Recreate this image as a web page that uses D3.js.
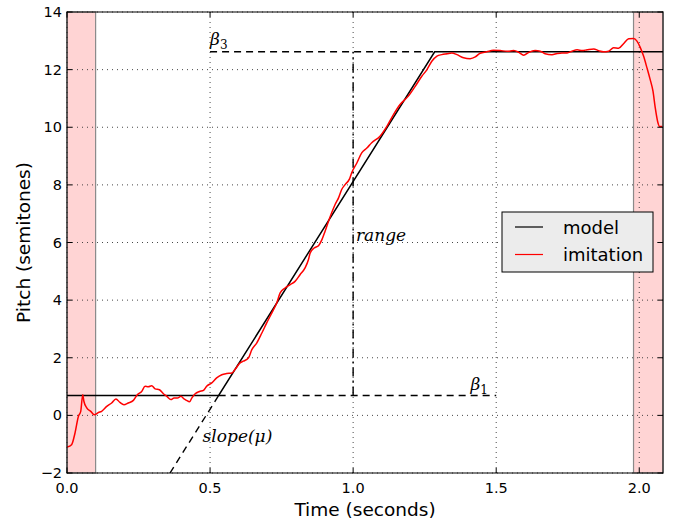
<!DOCTYPE html>
<html>
<head>
<meta charset="utf-8">
<script src="https://cdn.jsdelivr.net/npm/d3@7"></script>
<style>
  body { margin: 0; background: #fff; }
  text { font-family: "DejaVu Sans", sans-serif; }
  .math { font-family: "DejaVu Serif", serif; font-style: italic; }
</style>
</head>
<body>
<svg id="chart" width="677" height="528"></svg>
<script>
// tick values
const xTicks = [0, 0.5, 1.0, 1.5, 2.0];
const yTicks = [-2, 0, 2, 4, 6, 8, 10, 12, 14];

// fitted model (piecewise linear)
const modelT = [0, 0.53, 1.285, 2.083];
const modelP = [0.69, 0.69, 12.62, 12.62];

// imitation pitch contour
const imitT = [0.001, 0.016, 0.028, 0.040, 0.048, 0.055, 0.059, 0.069, 0.083, 0.095,
  0.110, 0.121, 0.139, 0.156, 0.171, 0.185, 0.199, 0.214, 0.232, 0.246,
  0.261, 0.273, 0.284, 0.296, 0.308, 0.323, 0.337, 0.349, 0.363, 0.374,
  0.386, 0.398, 0.409, 0.418, 0.428, 0.436, 0.448, 0.463, 0.477, 0.488,
  0.506, 0.523, 0.541, 0.558, 0.576, 0.587, 0.605, 0.616, 0.634, 0.646,
  0.663, 0.681, 0.698, 0.716, 0.733, 0.745, 0.762, 0.780, 0.797, 0.815,
  0.832, 0.844, 0.850, 0.864, 0.879, 0.891, 0.902, 0.914, 0.925, 0.937,
  0.949, 0.960, 0.972, 0.987, 0.995, 1.013, 1.030, 1.048, 1.065, 1.094,
  1.118, 1.141, 1.164, 1.193, 1.217, 1.240, 1.258, 1.275, 1.293, 1.310,
  1.328, 1.345, 1.363, 1.386, 1.409, 1.427, 1.444, 1.467, 1.490, 1.514,
  1.538, 1.561, 1.579, 1.596, 1.614, 1.636, 1.654, 1.671, 1.695, 1.713,
  1.730, 1.748, 1.765, 1.783, 1.800, 1.818, 1.841, 1.858, 1.875, 1.893,
  1.910, 1.928, 1.945, 1.963, 1.980, 1.992, 2.003, 2.015, 2.027, 2.038,
  2.048, 2.056, 2.064, 2.071, 2.080];
const imitP = [-1.10, -1.02, -0.61, -0.03, 0.14, 0.72, 0.49, 0.26, 0.14, 0.02,
  0.10, 0.14, 0.31, 0.43, 0.57, 0.45, 0.37, 0.43, 0.52, 0.72,
  0.83, 1.01, 0.99, 1.03, 0.92, 0.89, 0.75, 0.66, 0.55, 0.60,
  0.60, 0.66, 0.57, 0.52, 0.47, 0.60, 0.75, 0.83, 0.87, 1.01,
  1.13, 1.30, 1.41, 1.45, 1.47, 1.59, 1.82, 1.88, 1.99, 2.28,
  2.51, 2.86, 3.21, 3.56, 3.90, 4.25, 4.42, 4.54, 4.65, 4.89,
  5.12, 5.41, 5.64, 5.81, 5.89, 6.10, 6.39, 6.74, 7.03, 7.32,
  7.55, 7.84, 8.01, 8.20, 8.42, 8.76, 9.11, 9.28, 9.46, 9.69,
  10.03, 10.44, 10.79, 11.08, 11.42, 11.77, 12.00, 12.29, 12.47, 12.52,
  12.55, 12.58, 12.52, 12.41, 12.38, 12.44, 12.57, 12.62, 12.67, 12.66,
  12.64, 12.66, 12.60, 12.50, 12.60, 12.66, 12.64, 12.55, 12.52, 12.56,
  12.58, 12.58, 12.64, 12.69, 12.66, 12.69, 12.72, 12.66, 12.62, 12.64,
  12.76, 12.74, 12.90, 13.07, 13.08, 12.99, 12.78, 12.47, 12.06, 11.66,
  11.25, 10.67, 10.21, 10.03, 10.03];

// excluded (shaded) time spans
const spanStart = [0, 1.98];
const spanEnd = [0.1, 2.083];

// parameter guides
const beta1T = [0.53, 1.5];
const beta3T = [0.5, 1.285];
const slopeT = [0.36, 0.53];
const slopeP = [-2, 0.69];
const rangeT = 1.0;

const MARGIN = { top: 12, right: 14, bottom: 55, left: 67 };
const W = 677, H = 528;
const width = W - MARGIN.left - MARGIN.right;
const height = H - MARGIN.top - MARGIN.bottom;

const svg = d3.select("#chart");
const g = svg.append("g").attr("transform", `translate(${MARGIN.left},${MARGIN.top})`);

const x = d3.scaleLinear().domain([0, 2.083]).range([0, width]);
const y = d3.scaleLinear().domain([-2, 14]).range([height, 0]);

svg.append("defs").append("clipPath").attr("id", "clip")
  .append("rect").attr("width", width).attr("height", height);

// shaded spans
g.selectAll("rect.span")
  .data(spanStart.map((s, i) => [s, spanEnd[i]]))
  .enter().append("rect")
  .attr("class", "span")
  .attr("x", d => x(d[0]))
  .attr("y", 0)
  .attr("width", d => x(d[1]) - x(d[0]))
  .attr("height", height)
  .style("fill", "#ffd4d4")
  .style("stroke", "#8a8a8a")
  .style("stroke-width", 1.2);

// grid
g.selectAll("line.gx").data(xTicks).enter().append("line")
  .attr("x1", d => x(d)).attr("x2", d => x(d))
  .attr("y1", 0).attr("y2", height)
  .style("stroke", "#333").style("stroke-width", 0.9).style("stroke-dasharray", "1,4");
g.selectAll("line.gy").data(yTicks).enter().append("line")
  .attr("y1", d => y(d)).attr("y2", d => y(d))
  .attr("x1", 0).attr("x2", width)
  .style("stroke", "#333").style("stroke-width", 0.9).style("stroke-dasharray", "1,4");

const plot = g.append("g").attr("clip-path", "url(#clip)");

const line = d3.line().x(d => x(d[0])).y(d => y(d[1]));

// guides
plot.append("path")
  .attr("d", line(beta1T.map(t => [t, modelP[0]])))
  .style("fill", "none").style("stroke", "#000").style("stroke-width", 1.4)
  .style("stroke-dasharray", "7,5");
plot.append("path")
  .attr("d", line(beta3T.map(t => [t, modelP[3]])))
  .style("fill", "none").style("stroke", "#000").style("stroke-width", 1.4)
  .style("stroke-dasharray", "7,5");
plot.append("path")
  .attr("d", line(slopeT.map((t, i) => [t, slopeP[i]])))
  .style("fill", "none").style("stroke", "#000").style("stroke-width", 1.4)
  .style("stroke-dasharray", "7,5");
plot.append("path")
  .attr("d", line([[rangeT, modelP[0]], [rangeT, modelP[3]]]))
  .style("fill", "none").style("stroke", "#000").style("stroke-width", 1.4)
  .style("stroke-dasharray", "9,4,2,4");

// model
plot.append("path")
  .attr("d", line(modelT.map((t, i) => [t, modelP[i]])))
  .style("fill", "none").style("stroke", "#000").style("stroke-width", 1.5);

// imitation
plot.append("path")
  .attr("d", line.curve(d3.curveMonotoneX)(imitT.map((t, i) => [t, imitP[i]])))
  .style("fill", "none").style("stroke", "#ff0000").style("stroke-width", 1.5);

// annotation labels
function mathLabel(tx, py, base, sub) {
  const t = g.append("text").attr("class", "math")
    .attr("x", x(tx)).attr("y", y(py))
    .style("font-size", "17px");
  t.append("tspan").text(base);
  if (sub) {
    t.append("tspan").attr("dy", 4).style("font-size", "12px").style("font-style", "normal").text(sub);
  }
}
mathLabel(0.5, 12.87, "β", "3");
mathLabel(1.41, 0.87, "β", "1");
mathLabel(0.474, -0.91, "slope(μ)");
mathLabel(1.01, 6.04, "range");

// frame
g.append("rect").attr("width", width).attr("height", height)
  .style("fill", "none").style("stroke", "#000").style("stroke-width", 1);

// ticks (inward, all sides)
const tickLen = 5;
xTicks.forEach(t => {
  g.append("line").attr("x1", x(t)).attr("x2", x(t)).attr("y1", height).attr("y2", height - tickLen).style("stroke", "#000");
  g.append("line").attr("x1", x(t)).attr("x2", x(t)).attr("y1", 0).attr("y2", tickLen).style("stroke", "#000");
});
yTicks.forEach(v => {
  g.append("line").attr("y1", y(v)).attr("y2", y(v)).attr("x1", 0).attr("x2", tickLen).style("stroke", "#000");
  g.append("line").attr("y1", y(v)).attr("y2", y(v)).attr("x1", width).attr("x2", width - tickLen).style("stroke", "#000");
});

// tick labels
g.selectAll("text.xl").data(xTicks).enter().append("text")
  .attr("x", d => x(d)).attr("y", height + 20)
  .attr("text-anchor", "middle").style("font-size", "14.5px")
  .text(d3.format(".1f"));
g.selectAll("text.yl").data(yTicks).enter().append("text")
  .attr("x", -5).attr("y", d => y(d)).attr("dy", "0.35em")
  .attr("text-anchor", "end").style("font-size", "14.5px")
  .text(d3.format("d"));

// axis titles
g.append("text")
  .attr("x", width / 2).attr("y", height + 43)
  .attr("text-anchor", "middle").style("font-size", "18.5px")
  .text("Time (seconds)");
g.append("text")
  .attr("transform", `translate(${-37},${height / 2}) rotate(-90)`)
  .attr("text-anchor", "middle").style("font-size", "18.5px")
  .text("Pitch (semitones)");

// legend
const legend = svg.append("g").attr("transform", "translate(502,212)");
legend.append("rect").attr("width", 151).attr("height", 60)
  .style("fill", "#ececec").style("stroke", "#000").style("stroke-width", 1);
const legendItems = [["model", "#000"], ["imitation", "#ff0000"]];
legendItems.forEach((d, i) => {
  legend.append("line").attr("x1", 13).attr("x2", 41)
    .attr("y1", 15 + i * 27.5).attr("y2", 15 + i * 27.5)
    .style("stroke", d[1]).style("stroke-width", 1.2);
  legend.append("text").attr("x", 61).attr("y", 21.5 + i * 27.5)
    .style("font-size", "18px").text(d[0]);
});
</script>
</body>
</html>
